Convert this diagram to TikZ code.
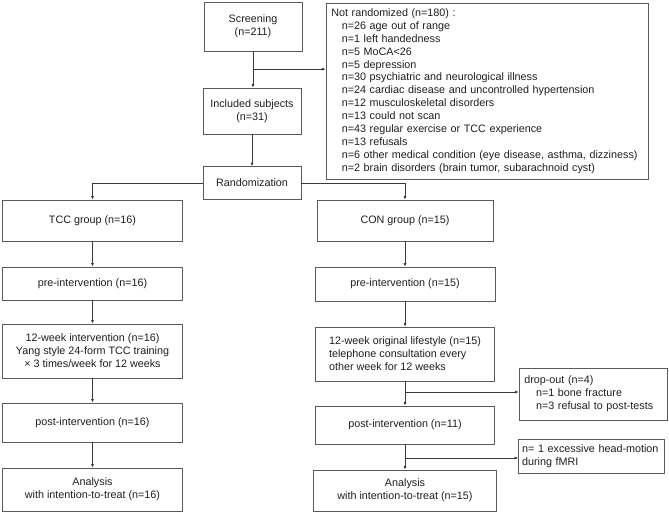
\documentclass[tikz,border=0pt]{standalone}
\usepackage{fontspec}
\setmainfont{Liberation Sans}
\usetikzlibrary{arrows.meta,calc}
\definecolor{boxgray}{HTML}{5A5A5A}
\definecolor{linegray}{HTML}{3A3A3A}
\definecolor{txtgray}{HTML}{1E1E1E}
\newcommand{\indt}{\hspace*{9pt}}
\begin{document}
\begin{tikzpicture}[x=0.03cm,y=-0.03cm,
  >={Latex[length=3pt,width=2.6pt]},
  every node/.style={font=\fontsize{9.2}{11}\selectfont,text=txtgray},
  box/.style={draw=boxgray,line width=0.7pt,align=center,inner sep=0pt},
  lbox/.style={box,align=left,inner xsep=4.5pt},
  conn/.style={->,draw=linegray,line width=0.7pt}]
\useasboundingbox (0,0) rectangle (669,512);
% screening and exclusions
\node[box,minimum width=2.94cm,minimum height=1.47cm] (screen) at (253,26.5) {Screening\\(n=211)};
\node[box,minimum width=2.94cm,minimum height=1.38cm] (incl) at (252,111) {Included subjects\\(n=31)};
\node[box,minimum width=2.94cm,minimum height=0.98cm] (rand) at (252,183) {Randomization};
\node[lbox,text width=9.34cm,minimum height=5.28cm] (notrand) at (487,91) {Not randomized (n=180) :\\
\indt n=26 age out of range\\
\indt n=1 left handedness\\
\indt n=5 MoCA<26\\
\indt n=5 depression\\
\indt n=30 psychiatric and neurological illness\\
\indt n=24 cardiac disease and uncontrolled hypertension\\
\indt n=12 musculoskeletal disorders\\
\indt n=13 could not scan\\
\indt n=43 regular exercise or TCC experience\\
\indt n=13 refusals\\
\indt n=6 other medical condition (eye disease, asthma, dizziness)\\
\indt n=2 brain disorders (brain tumor, subarachnoid cyst)};
% TCC arm
\node[box,minimum width=5.4cm,minimum height=1.23cm] (tcc) at (92.5,220.5) {TCC group (n=16)};
\node[box,minimum width=5.4cm,minimum height=0.99cm] (pretcc) at (92.5,283.5) {pre-intervention (n=16)};
\node[box,minimum width=5.4cm,minimum height=1.62cm] (inttcc) at (92.5,351) {12-week intervention (n=16)\\Yang style 24-form TCC training\\× 3 times/week for 12 weeks};
\node[box,minimum width=5.4cm,minimum height=1.17cm] (posttcc) at (92.5,422.5) {post-intervention (n=16)};
\node[box,minimum width=5.4cm,minimum height=1.29cm] (anatcc) at (92.5,489.5) {Analysis\\with intention-to-treat (n=16)};
% CON arm
\node[box,minimum width=5.28cm,minimum height=1.23cm] (con) at (405,220.5) {CON group (n=15)};
\node[box,minimum width=5.4cm,minimum height=1.02cm] (precon) at (405,284) {pre-intervention (n=15)};
\node[box,align=left,minimum width=5.37cm,minimum height=1.62cm] (intcon) at (405,354) {12-week original lifestyle (n=15)\\telephone consultation every\\other week for 12 weeks};
\node[box,minimum width=5.37cm,minimum height=1.14cm] (postcon) at (405,425) {post-intervention (n=11)};
\node[box,minimum width=5.49cm,minimum height=1.23cm] (anacon) at (405,490.5) {Analysis\\with intention-to-treat (n=15)};
\node[lbox,text width=4.12cm,minimum height=1.56cm] (drop) at (593,394) {drop-out (n=4)\\
\hspace*{10pt}n=1 bone fracture\\
\hspace*{10pt}n=3 refusal to post-tests};
\node[lbox,inner xsep=3pt,text width=4.16cm,minimum height=1.02cm] (excess) at (591.5,456) {n= 1 excessive head-motion\\during fMRI};
% connectors
\draw[conn] (screen.south) -- (screen.south |- incl.north);
\coordinate (b1) at ($(screen.south)!0.49!(screen.south |- incl.north)$);
\draw[conn] (b1) -- (b1 -| notrand.west);
\draw[conn] (incl.south) -- (incl.south |- rand.north);
\draw[conn] (rand.west) -| (tcc.north);
\draw[conn] (rand.east) -| (con.north);
\draw[conn] (tcc) -- (pretcc);
\draw[conn] (pretcc) -- (inttcc);
\draw[conn] (inttcc) -- (posttcc);
\draw[conn] (posttcc) -- (anatcc);
\draw[conn] (con) -- (precon);
\draw[conn] (precon) -- (intcon);
\draw[conn] (intcon) -- (postcon);
\draw[conn] (postcon) -- (anacon);
\coordinate (b2) at ($(intcon.south)!0.44!(postcon.north)$);
\draw[conn] (b2) -- (b2 -| drop.west);
\coordinate (b3) at ($(postcon.south)!0.54!(anacon.north)$);
\draw[conn] (b3) -- (b3 -| excess.west);
\end{tikzpicture}
\end{document}
